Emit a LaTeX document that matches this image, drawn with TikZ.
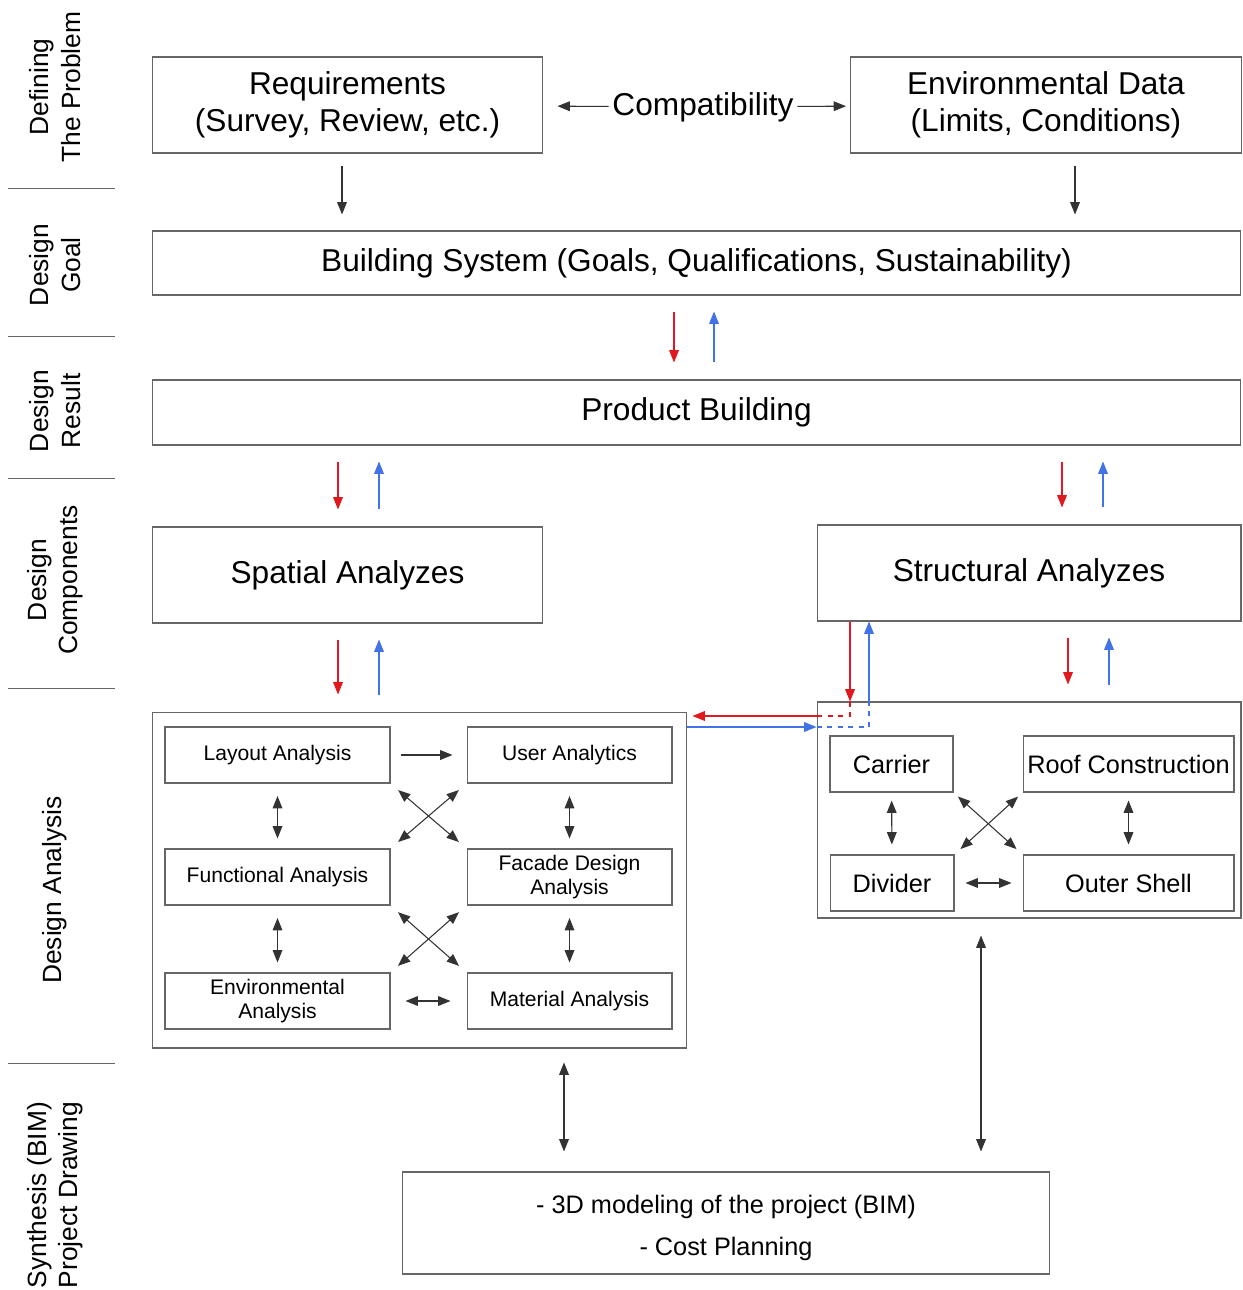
\documentclass[tikz,border=0pt]{standalone}
\usepackage{fontspec}
\setmainfont{Liberation Sans}
\usetikzlibrary{arrows.meta,calc}
\definecolor{arrred}{RGB}{225,25,30}
\definecolor{arrblue}{RGB}{65,115,230}

\begin{document}
\begin{tikzpicture}[x=0.02cm,y=-0.02cm,>={Triangle[length=7pt,width=5.5pt]},
  box/.style={draw=black!60, line width=0.6pt, align=center, inner sep=0pt},
  big/.style={font=\fontsize{18}{21}\selectfont},
  mid/.style={font=\fontsize{14.4}{17}\selectfont},
  small/.style={font=\fontsize{12}{14}\selectfont},
  side/.style={rotate=90, align=center, font=\fontsize{15}{18}\selectfont},
  conn/.style={black!80, line width=0.6pt},
  dbl/.style={conn, <->},
  rd/.style={arrred, line width=0.6pt},
  bl/.style={arrblue, line width=0.6pt}]
  \useasboundingbox (0,0) rectangle (1242,1290);

  \node[side] (l1) at (55,87) {Defining\\The Problem};
  \node[side] (l2) at (55,265) {Design\\Goal};
  \node[side] (l3) at (55,411) {Design\\Result};
  \node[side] (l4) at (55,580) {Design\\Components};
  \node[side] (l5) at (55,890) {Design Analysis};
  \node[side] (l6) at (55,1195) {Synthesis (BIM)\\Project Drawing};
  \foreach \y in {188,336,478,688,1063} \draw[black!60] (8,\y) -- (115,\y);

  \node[box,big,minimum width=7.82cm,minimum height=1.92cm] (req) at (347.5,105) {Requirements\\(Survey, Review, etc.)};
  \node[box,big,minimum width=7.82cm,minimum height=1.92cm] (env) at (1046,105) {Environmental Data\\(Limits, Conditions)};
  \node[big,inner sep=2pt] (comp) at (703,107) {Compatibility};
  \node[box,big,minimum width=21.78cm,minimum height=1.28cm] (bsys) at (696.5,263) {Building System (Goals, Qualifications, Sustainability)};
  \node[box,big,minimum width=21.78cm,minimum height=1.3cm] (prod) at (696.5,412.5) {Product Building};
  \node[box,big,minimum width=7.82cm,minimum height=1.92cm] (spa) at (347.5,575) {Spatial Analyzes};
  \node[box,big,minimum width=8.48cm,minimum height=1.92cm] (str) at (1029,573) {Structural Analyzes};

  \node[box,minimum width=10.7cm,minimum height=6.72cm] (dal) at (419.5,880) {};
  \node[box,minimum width=8.48cm,minimum height=4.32cm] (dar) at (1029,810) {};

  \node[box,small,minimum width=4.5cm,minimum height=1.12cm] (lay) at (277.5,755) {Layout Analysis};
  \node[box,small,minimum width=4.1cm,minimum height=1.12cm] (usr) at (569.5,755) {User Analytics};
  \node[box,small,minimum width=4.5cm,minimum height=1.12cm] (fun) at (277.5,877) {Functional Analysis};
  \node[box,small,minimum width=4.1cm,minimum height=1.12cm] (fac) at (569.5,877) {Facade Design\\Analysis};
  \node[box,small,minimum width=4.5cm,minimum height=1.12cm] (ena) at (277.5,1001) {Environmental\\Analysis};
  \node[box,small,minimum width=4.1cm,minimum height=1.12cm] (mat) at (569.5,1001) {Material Analysis};

  \node[box,mid,minimum width=2.46cm,minimum height=1.12cm] (car) at (891.5,764) {Carrier};
  \node[box,mid,minimum width=4.22cm,minimum height=1.12cm] (roof) at (1128.5,764) {Roof Construction};
  \node[box,mid,minimum width=2.48cm,minimum height=1.12cm] (div) at (892,883) {Divider};
  \node[box,mid,minimum width=4.22cm,minimum height=1.12cm] (out) at (1128.5,883) {Outer Shell};

  \node[box,minimum width=12.96cm,minimum height=2.04cm,
    label={[mid,align=center,yshift=-0.1cm]center:- 3D modeling of the project (BIM)\\[7pt]- Cost Planning}] (bim) at (726,1223) {};

  \draw[conn,->,shorten >=0.28cm] (comp) -- (req);
  \draw[conn,->,shorten >=0.08cm] (comp) -- (env);
  \foreach \u/\l/\xx in {req/bsys/342, env/bsys/1075}
    \draw[conn,->,shorten <=0.24cm,shorten >=0.32cm] (\xx,0 |- \u.south) -- (\xx,0 |- \l.north);

  \foreach \u/\l/\xr/\xb in {bsys/prod/674/714, prod/spa/338/379, prod/str/1062/1103, spa/dal/338/379, str/dar/1068/1109}{
    \draw[rd,->,shorten <=0.32cm,shorten >=0.34cm] (\xr,0 |- \u.south) -- (\xr,0 |- \l.north);
    \draw[bl,<-,shorten <=0.32cm,shorten >=0.34cm] (\xb,0 |- \u.south) -- (\xb,0 |- \l.north);
  }

  \draw[rd,->] (850,0 |- str.south) -- (850,0 |- dar.north);
  \draw[rd,dashed] (850,0 |- dar.north) |- (dar.west |- 0,716);
  \draw[rd,->,shorten >=0.1cm] (dar.west |- 0,716) -- (dal.east |- 0,716);
  \draw[bl,->] (dal.east |- 0,727) -- (dar.west |- 0,727);
  \draw[bl,dashed] (dar.west |- 0,727) -| (869,0 |- dar.north);
  \draw[bl,->] (869,0 |- dar.north) -- (869,0 |- str.south);

  \draw[conn,->,shorten <=0.2cm,shorten >=0.28cm] (lay) -- (usr);
  \foreach \a/\b in {lay/fun,fun/ena,usr/fac,fac/mat}
    \draw[dbl,shorten <=0.25cm,shorten >=0.2cm] (\a) -- (\b);
  \foreach \a/\b/\c/\d in {lay/fac/usr/fun, fun/mat/fac/ena}{
    \draw[dbl,shorten <=0.2cm,shorten >=0.2cm] (\a.south east) -- (\b.north west);
    \draw[dbl,shorten <=0.2cm,shorten >=0.2cm] (\c.south west) -- (\d.north east);
  }
  \draw[dbl,shorten <=0.3cm,shorten >=0.32cm] (ena) -- (mat);

  \draw[dbl,shorten <=0.16cm,shorten >=0.2cm] (car) -- (div);
  \draw[dbl,shorten <=0.16cm,shorten >=0.2cm] (roof) -- (out);
  \draw[dbl,shorten <=0.12cm,shorten >=0.16cm] (car.south east) -- (out.north west);
  \draw[dbl,shorten <=0.12cm,shorten >=0.16cm] (roof.south west) -- (div.north east);
  \draw[dbl,shorten <=0.22cm,shorten >=0.22cm] (div) -- (out);

  \draw[dbl,shorten <=0.28cm,shorten >=0.4cm] (564,0 |- dal.south) -- (564,0 |- bim.north);
  \draw[dbl,shorten <=0.34cm,shorten >=0.4cm] (981,0 |- dar.south) -- (981,0 |- bim.north);
\end{tikzpicture}
\end{document}
